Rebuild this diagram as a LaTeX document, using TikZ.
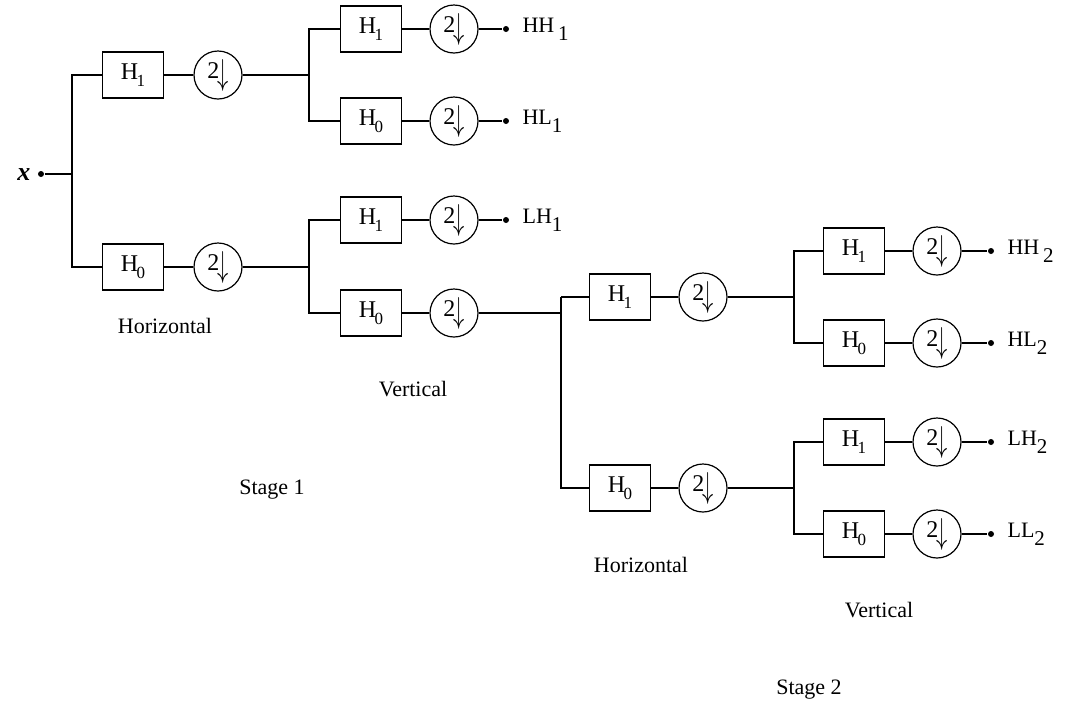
\documentclass[tikz,border=0pt]{standalone}
\usepackage{fontspec}
\setmainfont{Liberation Serif}
\newcommand{\bsub}[1]{\kern-1.5pt\raisebox{-0.3em}{\fontsize{17}{17}\selectfont #1}}
\newcommand{\osub}[1]{\raisebox{-0.38em}{\fontsize{21}{21}\selectfont #1}}
\begin{document}
\begin{tikzpicture}[x=1pt,y=-1pt,line width=1.2pt,
  every node/.style={font=\fontsize{22}{26}\selectfont},
  filt/.style={draw,rectangle,minimum width=61pt,minimum height=46pt,inner sep=0pt,font=\fontsize{24}{26}\selectfont},
  ds/.style={draw,circle,minimum size=48pt,inner sep=0pt,font=\fontsize{24}{26}\selectfont},
  pt/.style={circle,fill,inner sep=0pt,minimum size=6pt},
  outlbl/.style={anchor=west,inner sep=0pt},
  captxt/.style={inner sep=0pt}]
\path[use as bounding box] (0,0) rectangle (1069,713);
\newcommand{\dn}{\raisebox{0.08em}{2}\kern-2pt\raisebox{-0.14em}{\scalebox{0.9}[1.45]{$\downarrow$}}}
% Stage 1 horizontal
\node[pt] (in) at (41,174) {};
\node[anchor=east,inner sep=0pt,font=\fontsize{26}{26}\selectfont] (xl) at (31,175) {\textbf{\textit{x}}};
\coordinate (j0) at (72,174);
\node[filt] (A1) at (133,75) {H\bsub{1}};
\node[ds] (A1d) at (218,75) {\dn};
\node[filt] (A0) at (133,267) {H\bsub{0}};
\node[ds] (A0d) at (218,267) {\dn};
\draw (in) -- (j0);
\draw (j0) |- (A1.west);
\draw (j0) |- (A0.west);
\draw (A1) -- (A1d);
\draw (A0) -- (A0d);
% Stage 1 vertical
\coordinate (j1) at (309,75);
\coordinate (j2) at (309,267);
\draw (A1d) -- (j1);
\draw (A0d) -- (j2);
\node[filt] (B11) at (371,29) {H\bsub{1}};
\node[ds] (B11d) at (454,29) {\dn};
\node[pt] (o1) at (506,29) {};
\node[outlbl] (l1) at (522,29) {HH\,\osub{1}};
\node[filt] (B10) at (371,121) {H\bsub{0}};
\node[ds] (B10d) at (454,121) {\dn};
\node[pt] (o2) at (506,121) {};
\node[outlbl] (l2) at (522,121) {HL\osub{1}};
\node[filt] (B01) at (371,220) {H\bsub{1}};
\node[ds] (B01d) at (454,220) {\dn};
\node[pt] (o3) at (506,220) {};
\node[outlbl] (l3) at (522,220) {LH\osub{1}};
\node[filt] (B00) at (371,313) {H\bsub{0}};
\node[ds] (B00d) at (454,313) {\dn};
\foreach \n/\o in {B11/o1,B10/o2,B01/o3}{
  \draw (\n) -- (\n d);
  \draw (\n d) -- (\o);
}
\draw (B00) -- (B00d);
\draw (j1) |- (B11.west);
\draw (j1) |- (B10.west);
\draw (j2) |- (B01.west);
\draw (j2) |- (B00.west);
% Stage 2 horizontal
\coordinate (j3) at (561,313);
\draw (B00d) -- (j3);
\node[filt] (C1) at (620,297) {H\bsub{1}};
\node[ds] (C1d) at (703,297) {\dn};
\node[filt] (C0) at (620,488) {H\bsub{0}};
\node[ds] (C0d) at (703,488) {\dn};
\coordinate (j3t) at (561,297);
\draw (j3t) |- (C0.west);
\draw (j3t) -- (C1.west);
\draw (C1) -- (C1d);
\draw (C0) -- (C0d);
% Stage 2 vertical
\coordinate (j4) at (794,297);
\coordinate (j5) at (794,488);
\draw (C1d) -- (j4);
\draw (C0d) -- (j5);
\node[filt] (D11) at (854,251) {H\bsub{1}};
\node[ds] (D11d) at (937,251) {\dn};
\node[pt] (p1) at (991,251) {};
\node[outlbl] (m1) at (1007,251) {HH\,\osub{2}};
\node[filt] (D10) at (854,343) {H\bsub{0}};
\node[ds] (D10d) at (937,343) {\dn};
\node[pt] (p2) at (991,343) {};
\node[outlbl] (m2) at (1007,343) {HL\osub{2}};
\node[filt] (D01) at (854,442) {H\bsub{1}};
\node[ds] (D01d) at (937,442) {\dn};
\node[pt] (p3) at (991,442) {};
\node[outlbl] (m3) at (1007,442) {LH\osub{2}};
\node[filt] (D00) at (854,534) {H\bsub{0}};
\node[ds] (D00d) at (937,534) {\dn};
\node[pt] (p4) at (991,534) {};
\node[outlbl] (m4) at (1007,534) {LL\osub{2}};
\foreach \n/\o in {D11/p1,D10/p2,D01/p3,D00/p4}{
  \draw (\n) -- (\n d);
  \draw (\n d) -- (\o);
}
\draw (j4) |- (D11.west);
\draw (j4) |- (D10.west);
\draw (j5) |- (D01.west);
\draw (j5) |- (D00.west);
% captions
\node[captxt] (h1) at (165,326) {Horizontal};
\node[captxt] (v1) at (413,389) {Vertical};
\node[captxt] (s1) at (272,490) {Stage 1};
\node[captxt] (h2) at (641,565) {Horizontal};
\node[captxt] (v2) at (879,610) {Vertical};
\node[captxt] (s2) at (809,690) {Stage 2};
\end{tikzpicture}
\end{document}
